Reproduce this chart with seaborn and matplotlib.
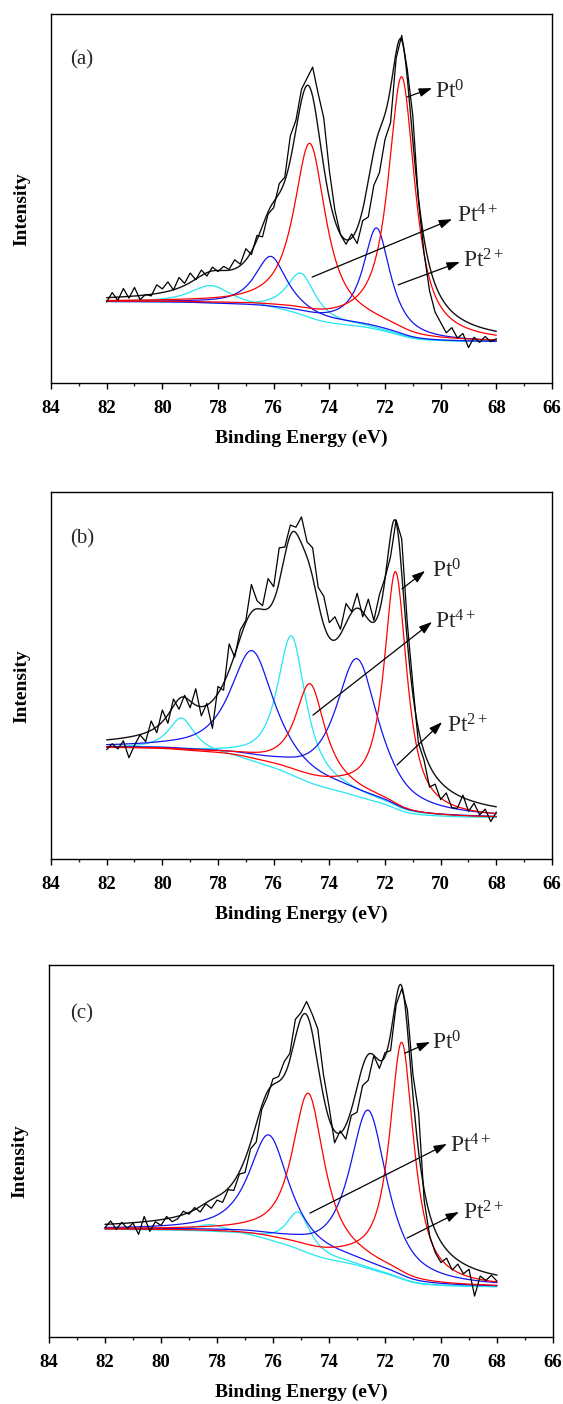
import numpy as np
import matplotlib
matplotlib.use("Agg")
import matplotlib.pyplot as plt
import seaborn as sns

sns.set_theme(style="white")
plt.rcParams["font.family"] = ["Liberation Serif", "DejaVu Serif"]
plt.rcParams["mathtext.fontset"] = "custom"
plt.rcParams["mathtext.rm"] = "Liberation Serif"
plt.rcParams["mathtext.it"] = "Liberation Serif:italic"
plt.rcParams["mathtext.bf"] = "Liberation Serif:bold"

# ---------------- data ----------------
raw_energy = np.round(np.arange(82.0, 67.9, -0.2), 1)   # eV, 82.0 ... 68.0

raw_a = [22.0, 24.5, 22.4, 25.6, 23.0, 25.9, 22.6, 24.0, 23.6, 26.6,
         25.5, 27.4, 25.2, 28.6, 27.0, 29.8, 28.0, 30.6, 29.0, 31.4,
         30.2, 31.6, 30.8, 33.4, 32.2, 36.4, 34.8, 40.0, 39.6, 45.8,
         47.5, 54.0, 55.8, 67.0, 71.2, 79.6, 82.6, 85.6, 78.4, 71.8,
         57.6, 46.8, 40.2, 37.6, 40.4, 37.8, 44.0, 45.0, 53.6, 57.0,
         66.0, 70.6, 88.0, 94.2, 85.0, 72.4, 49.6, 35.4, 25.0, 19.2,
         16.4, 13.6, 15.0, 12.2, 13.4, 9.6, 12.4, 11.0, 12.6, 11.2, 12.0]

raw_b = [29.8, 31.4, 30.0, 32.2, 27.6, 31.0, 33.8, 32.0, 37.6, 34.4,
         40.6, 37.0, 43.6, 40.8, 44.6, 41.2, 46.4, 39.0, 42.4, 35.6,
         47.0, 46.0, 58.6, 55.0, 62.4, 65.0, 74.8, 70.4, 69.0, 76.4,
         74.2, 84.8, 85.0, 91.0, 90.4, 93.2, 86.4, 84.8, 74.0, 71.6,
         64.4, 66.0, 62.6, 69.6, 67.4, 72.4, 66.0, 70.8, 65.0, 72.0,
         76.6, 82.4, 92.4, 87.2, 64.4, 47.6, 31.6, 27.0, 19.6, 20.4,
         16.2, 18.0, 14.0, 13.8, 17.4, 13.0, 15.2, 12.0, 13.6, 10.2, 12.8]

raw_c = [29.4, 31.2, 29.0, 30.8, 29.2, 30.6, 27.6, 32.4, 28.4, 31.0,
         30.0, 32.4, 31.0, 31.8, 33.8, 33.0, 34.8, 33.6, 35.8, 34.6,
         36.8, 36.2, 39.6, 39.4, 43.8, 44.2, 50.6, 52.4, 61.2, 64.6,
         69.4, 70.0, 74.0, 76.2, 85.4, 87.2, 90.2, 86.8, 82.8, 70.6,
         62.0, 52.2, 55.4, 53.2, 59.6, 60.4, 67.6, 69.0, 75.6, 72.2,
         76.4, 77.0, 89.4, 93.6, 88.0, 70.4, 60.4, 36.6, 27.0, 22.6,
         20.0, 21.2, 18.0, 19.6, 17.0, 18.2, 11.0, 16.4, 15.2, 16.6, 15.0]

# fitted components: centres (eV), heights, half widths
a_pt0_center = [74.70, 71.40]; a_pt0_height = [46.5, 69.5]; a_pt0_hw = [0.69, 0.575]
a_pt2_center = [76.10, 72.30]; a_pt2_height = [14.0, 27.0]; a_pt2_hw = [0.69, 0.575]
a_pt4_center = [78.25, 75.02]; a_pt4_height = [5.0, 11.5];  a_pt4_hw = [0.90, 0.63]
a_background = [22.0, 11.2]   # high-BE end, low-BE end

b_pt0_center = [74.69, 71.62]; b_pt0_height = [26.0, 64.0]; b_pt0_hw = [0.64, 0.49]
b_pt2_center = [76.77, 73.00]; b_pt2_height = [30.0, 37.0]; b_pt2_hw = [0.95, 0.92]
b_pt4_center = [79.31, 75.36]; b_pt4_height = [9.0, 38.0];  b_pt4_hw = [0.57, 0.62]
b_background = [30.3, 11.3]

c_pt0_center = [74.74, 71.40]; c_pt0_height = [42.0, 63.0]; c_pt0_hw = [0.69, 0.52]
c_pt2_center = [76.15, 72.60]; c_pt2_height = [28.0, 42.0]; c_pt2_hw = [0.86, 0.80]
c_pt4_center = [78.20, 75.09]; c_pt4_height = [2.0, 10.0];  c_pt4_hw = [0.69, 0.52]
c_background = [28.9, 13.5]

lorentz_fraction = 0.9

x_ticks = [84, 82, 80, 78, 76, 74, 72, 70, 68, 66]
species = ["Pt$^{0}$", "Pt$^{\\mathrm{4+}}$", "Pt$^{\\mathrm{2+}}$"]

# ---------------- helpers ----------------
grid = np.linspace(68.0, 82.0, 1401)


def pv(e, c, h, w, eta=lorentz_fraction):
    x = (e - c) / w
    return h * (eta / (1 + x ** 2) + (1 - eta) * np.exp(-np.log(2) * x ** 2))


def build(pt0, pt2, pt4, bgends):
    peaks = {}
    for name, (cs, hs, ws) in (("pt0", pt0), ("pt2", pt2), ("pt4", pt4)):
        peaks[name] = [pv(grid, c, h, w) for c, h, w in zip(cs, hs, ws)]
    total = sum(p for lst in peaks.values() for p in lst)
    cum = np.cumsum(total)
    f = cum / cum[-1]
    hi, lo = bgends
    bg = lo + (hi - lo) * f
    bump = 4 * f * (1 - f)
    return peaks, bg, bump, bg + total


panels = [
    dict(label="(a)", raw=raw_a,
         comp=((a_pt0_center, a_pt0_height, a_pt0_hw), (a_pt2_center, a_pt2_height, a_pt2_hw),
               (a_pt4_center, a_pt4_height, a_pt4_hw), a_background),
         rect=[51 / 563, 1 - 383 / 1404, 501 / 563, 369 / 1404],
         arrows=[((71.21, 77.5), (70.31, 79.9), (70.20, 77.0)),
                 ((74.62, 28.7), (69.59, 44.4), (69.41, 43.4)),
                 ((71.53, 26.6), (69.31, 32.8), (69.20, 31.2))],
         lab_pos=(83.32, 86.2)),
    dict(label="(b)", raw=raw_b,
         comp=((b_pt0_center, b_pt0_height, b_pt0_hw), (b_pt2_center, b_pt2_height, b_pt2_hw),
               (b_pt4_center, b_pt4_height, b_pt4_hw), b_background),
         rect=[51 / 563, 1 - 859 / 1404, 501 / 563, 367 / 1404],
         arrows=[((71.39, 73.6), (70.56, 78.5), (70.31, 76.6)),
                 ((74.59, 39.2), (70.31, 64.6), (70.20, 62.7)),
                 ((71.57, 25.6), (69.95, 37.3), (69.77, 34.6))],
         lab_pos=(83.32, 86.1)),
    dict(label="(c)", raw=raw_c,
         comp=((c_pt0_center, c_pt0_height, c_pt0_hw), (c_pt2_center, c_pt2_height, c_pt2_hw),
               (c_pt4_center, c_pt4_height, c_pt4_hw), c_background),
         rect=[49 / 563, 1 - 1337 / 1404, 504 / 563, 372 / 1404],
         arrows=[((71.29, 76.3), (70.39, 79.3), (70.32, 77.2)),
                 ((74.68, 33.3), (69.79, 51.9), (69.68, 49.5)),
                 ((71.21, 26.6), (69.36, 33.6), (69.21, 31.5))],
         lab_pos=(83.25, 85.5)),
]

colors = {"pt0": "#ff0000", "pt2": "#1414f0", "pt4": "#22e6f2"}
bg_shift = {"pt0": 0.0, "pt2": -0.5, "pt4": -1.1}

fig = plt.figure(figsize=(5.63, 14.04), dpi=100)

for p in panels:
    ax = fig.add_axes(p["rect"])
    pt0, pt2, pt4, bgends = p["comp"]
    peaks, bg, bump, envelope = build(pt0, pt2, pt4, bgends)
    for name in ("pt4", "pt2", "pt0"):
        base = bg + bg_shift[name] * bump
        for pk in peaks[name]:
            sns.lineplot(x=grid, y=base + pk, ax=ax, color=colors[name], lw=0.9,
                         estimator=None, sort=False, legend=False, zorder=2)
    sns.lineplot(x=grid, y=envelope, ax=ax, color="#111111", lw=1.0,
                 estimator=None, sort=False, legend=False, zorder=3)
    sns.lineplot(x=raw_energy, y=p["raw"], ax=ax, color="#000000", lw=0.9,
                 estimator=None, sort=False, legend=False, zorder=4)

    for (tail, head, txt), sp in zip(p["arrows"], species):
        ax.annotate("", xy=head, xytext=tail,
                    arrowprops=dict(arrowstyle="-|>,head_length=0.65,head_width=0.22",
                                    lw=0.9, color="black", shrinkA=0, shrinkB=0))
        ax.text(txt[0], txt[1], sp, fontsize=17, ha="left", va="baseline")

    ax.text(p["lab_pos"][0], p["lab_pos"][1], p["label"], fontsize=15,
            ha="left", va="baseline")

    ax.set_xlim(84, 66)
    ax.set_ylim(0, 100)
    ax.set_xticks(x_ticks)
    ax.set_xticklabels([str(t) for t in x_ticks], fontweight="bold", fontsize=13.5)
    ax.set_xticks(np.arange(83, 66, -2), minor=True)
    ax.set_yticks([])
    ax.tick_params(axis="x", which="major", direction="out", length=4.3, width=1.0,
                   pad=8, bottom=True, colors="black")
    ax.tick_params(axis="x", which="minor", direction="out", length=2.2, width=1.0,
                   bottom=True)
    for s in ax.spines.values():
        s.set_color("black")
        s.set_linewidth(1.0)
    ax.set_xlabel("Binding Energy (eV)", fontsize=14, fontweight="bold", labelpad=9,
                  color="black")
    ax.set_ylabel("Intensity", fontsize=14, fontweight="bold", color="black")
    ax.yaxis.set_label_coords(-0.041, 0.472)

fig.savefig("out.png", dpi=100)
